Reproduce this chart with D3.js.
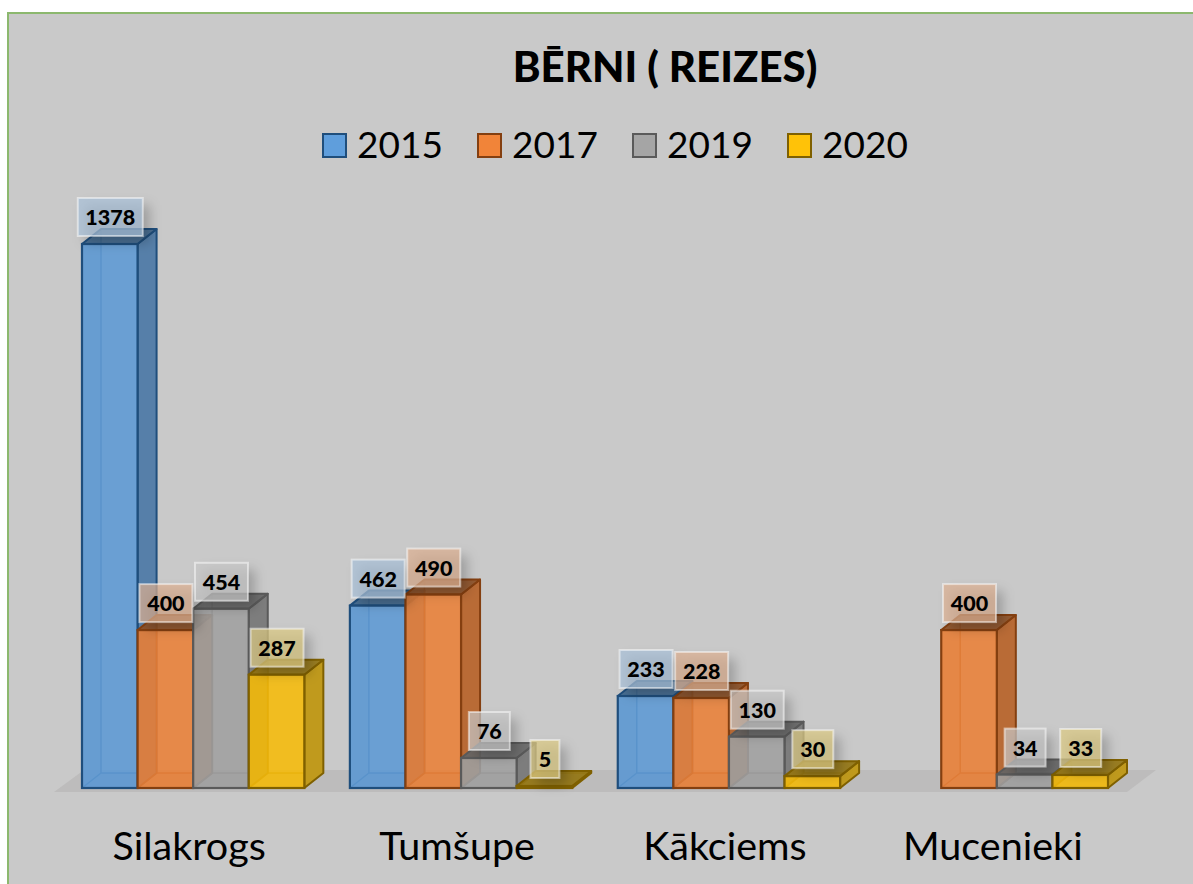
<!DOCTYPE html>
<html>
<head>
<meta charset="utf-8">
<script src="https://cdn.jsdelivr.net/npm/d3@7"></script>
<style>
html,body {margin:0;padding:0;background:#fff;}
svg {display:block;}
text {font-family:Lato,"Open Sans",sans-serif;fill:#000;}
</style>
</head>
<body>
<div id="chart"></div>
<script>
const title = "BĒRNI ( REIZES)";
const categories = ["Silakrogs","Tumšupe","Kākciems","Mucenieki"];
const years = ["2015","2017","2019","2020"];
const values2015 = [1378,462,233,null];
const values2017 = [400,490,228,400];
const values2019 = [454,76,130,34];
const values2020 = [287,5,30,33];
const seriesValues = [values2015,values2017,values2019,values2020];

const frontColors = ["#5c98d4","#e97f37","#9f9f9f","#f6bb08"];
const sideColors = ["#567fa9","#b96b36","#7d7d7d","#c09a1d"];
const topColors = ["#40688f","#8f5126","#666666","#957613"];
const edgeColors = ["#1f4e7c","#843f10","#5a5a5a","#7f6000"];
const labelColors = ["#a9c0d8","#dcb092","#c8c8c8","#dcca84"];

const width = 1193;
const height = 884;
const baseline = 788;
const depthX = 19;
const depthY = 15;

const svg = d3.select("#chart")
    .append("svg")
    .attr("width",width)
    .attr("height",height);

const defs = svg.append("defs");
defs.append("filter")
    .attr("id","blur")
    .attr("x","-50%").attr("y","-50%").attr("width","200%").attr("height","200%")
    .append("feGaussianBlur")
    .attr("stdDeviation",6);

// panel
svg.append("rect")
    .attr("x",8)
    .attr("y",13)
    .attr("width",width+20)
    .attr("height",height+20)
    .attr("fill","#c9c9c9")
    .attr("stroke","#8cb86e")
    .attr("stroke-width",2);

const xGroup = d3.scaleBand()
    .domain(categories)
    .range([82,1108])
    .paddingInner(0.17)
    .paddingOuter(0);
const xBar = d3.scaleBand()
    .domain(years)
    .range([0,xGroup.bandwidth()]);
const yScale = d3.scaleLinear()
    .domain([0,1378])
    .range([baseline,244]);

const poly = (pts) => "M" + pts.map(p=>p.join(",")).join("L") + "Z";

// floor
svg.append("path")
    .attr("d",poly([[54,792],[1127,792],[1156,770],[84,770]]))
    .attr("fill","#bdbcbc");

const axis = d3.axisBottom(xGroup).tickSize(0);
const axisG = svg.append("g")
    .attr("class","x-axis")
    .attr("transform",`translate(-4,${baseline+41})`)
    .call(axis);
axisG.select(".domain").remove();
axisG.selectAll("text").attr("font-size",39.5).attr("font-family",null);

const bars = [];
categories.forEach((cat,c) =>
{
    years.forEach((year,s) =>
    {
        const value = seriesValues[s][c];
        if (value == null) return;
        bars.push({cat,year,s,value});
    });
});

const barW = xBar.bandwidth();

const barG = svg.selectAll(".bar")
    .data(bars)
    .enter()
    .append("g")
    .attr("class","bar")
    .attr("transform",d=>`translate(${xGroup(d.cat)+xBar(d.year)},0)`);

// inner left wall and floor of the box
barG.append("path")
    .attr("d",d=>poly([[0,yScale(d.value)],[depthX,yScale(d.value)-depthY],[depthX,baseline-depthY],[0,baseline]]))
    .attr("fill",d=>edgeColors[d.s])
    .attr("fill-opacity",0.12);
barG.append("path")
    .attr("d",poly([[0,baseline],[depthX,baseline-depthY],[barW+depthX,baseline-depthY],[barW,baseline]]))
    .attr("fill",d=>edgeColors[d.s])
    .attr("fill-opacity",0.12);
barG.append("path")
    .attr("d",d=>`M${depthX},${yScale(d.value)-depthY}V${baseline-depthY}L0,${baseline}M${depthX},${baseline-depthY}H${barW+depthX}`)
    .attr("fill","none")
    .attr("stroke",d=>edgeColors[d.s])
    .attr("stroke-opacity",0.75)
    .attr("stroke-width",1.5);

// right side
barG.append("path")
    .attr("d",d=>poly([[barW,yScale(d.value)],[barW+depthX,yScale(d.value)-depthY],[barW+depthX,baseline-depthY],[barW,baseline]]))
    .attr("fill",d=>sideColors[d.s])
    .attr("stroke",d=>edgeColors[d.s])
    .attr("stroke-width",2)
    .attr("stroke-linejoin","round");

// top
barG.append("path")
    .attr("d",d=>poly([[0,yScale(d.value)],[depthX,yScale(d.value)-depthY],[barW+depthX,yScale(d.value)-depthY],[barW,yScale(d.value)]]))
    .attr("fill",d=>topColors[d.s])
    .attr("fill-opacity",0.92)
    .attr("stroke",d=>edgeColors[d.s])
    .attr("stroke-width",2)
    .attr("stroke-linejoin","round");

// front
barG.append("rect")
    .attr("x",0)
    .attr("y",d=>yScale(d.value))
    .attr("width",barW)
    .attr("height",d=>baseline-yScale(d.value))
    .attr("fill",d=>frontColors[d.s])
    .attr("fill-opacity",0.88)
    .attr("stroke",d=>edgeColors[d.s])
    .attr("stroke-width",2.2);

// data labels
const labelW = (d) => 17 + String(d.value).length*12;
const labelH = 38;

const labelG = svg.selectAll(".label")
    .data(bars)
    .enter()
    .append("g")
    .attr("class","label")
    .attr("transform",d=>`translate(${xGroup(d.cat)+xBar(d.year)+barW/2+0.5},${yScale(d.value)-8-labelH})`);

labelG.append("rect")
    .attr("x",d=>-labelW(d)/2+7)
    .attr("y",7)
    .attr("width",labelW)
    .attr("height",labelH)
    .attr("fill","#000")
    .attr("fill-opacity",0.22)
    .attr("filter","url(#blur)");

labelG.append("rect")
    .attr("x",d=>-labelW(d)/2)
    .attr("y",0)
    .attr("width",labelW)
    .attr("height",labelH)
    .attr("fill",d=>labelColors[d.s])
    .attr("fill-opacity",0.72)
    .attr("stroke","#fff")
    .attr("stroke-opacity",0.5)
    .attr("stroke-width",2);

labelG.append("text")
    .attr("x",0)
    .attr("y",27)
    .attr("text-anchor","middle")
    .attr("font-size",21.5)
    .attr("font-weight",900)
    .text(d=>d.value);

// title
svg.append("text")
    .attr("x",665)
    .attr("y",82)
    .attr("text-anchor","middle")
    .attr("font-size",42)
    .attr("font-weight",900)
    .text(title);

// legend
const legendX = d3.scalePoint()
    .domain(years)
    .range([322,787]);
const legendG = svg.selectAll(".legend")
    .data(years)
    .enter()
    .append("g")
    .attr("class","legend")
    .attr("transform",d=>`translate(${legendX(d)},133)`);
legendG.append("rect")
    .attr("x",1)
    .attr("y",1)
    .attr("width",23)
    .attr("height",23)
    .attr("fill",(d,i)=>d3.color(frontColors[i]).brighter(0.1))
    .attr("stroke",(d,i)=>edgeColors[i])
    .attr("stroke-width",2);
legendG.append("text")
    .attr("x",35)
    .attr("y",25)
    .attr("font-size",37)
    .text(d=>d);
</script>
</body>
</html>
